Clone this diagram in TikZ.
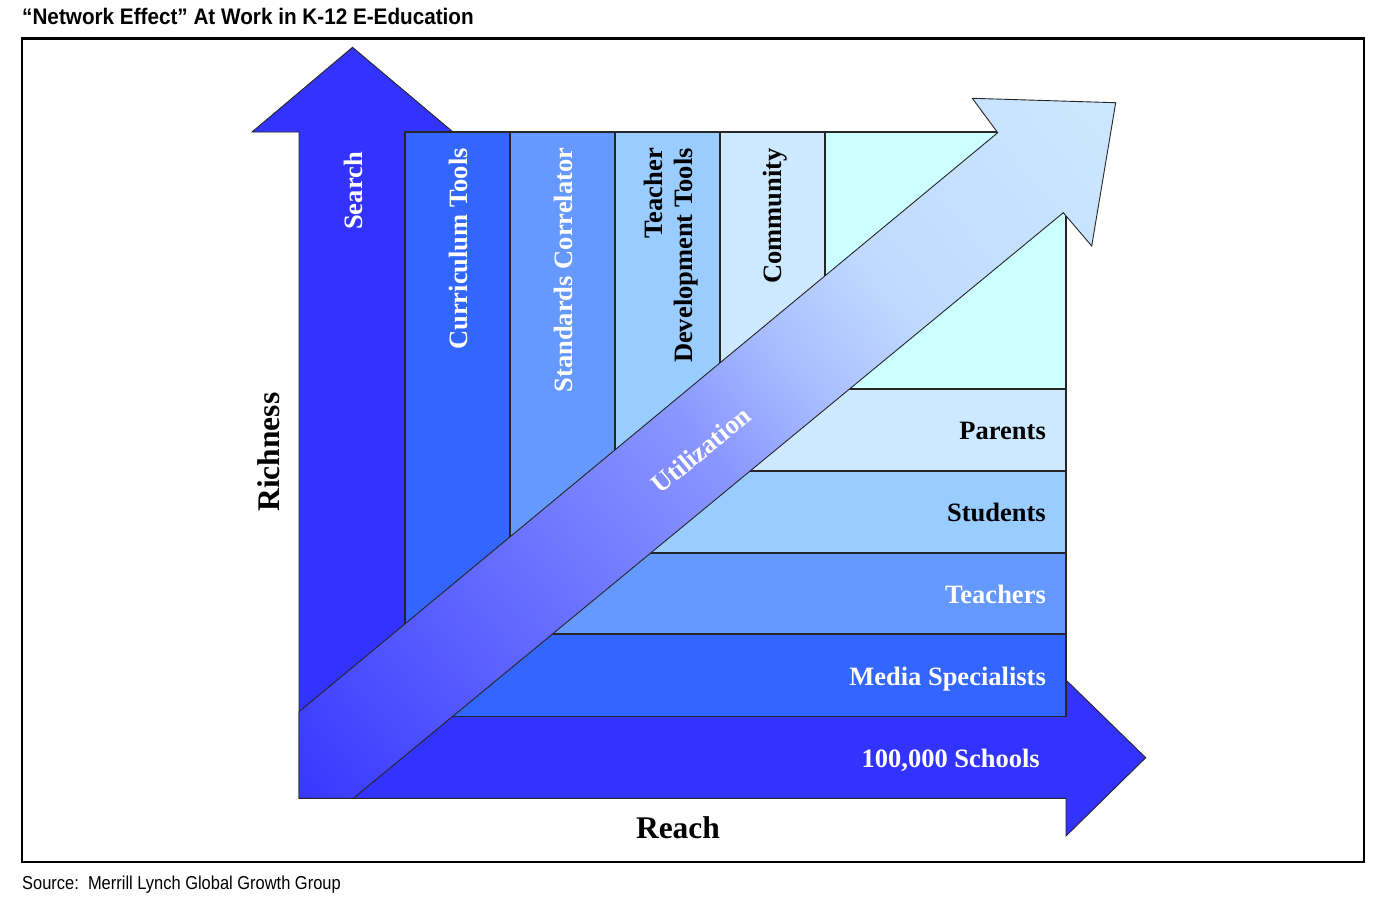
\documentclass[tikz,border=0pt]{standalone}
\usepackage{fontspec}
\setmainfont{Liberation Serif}
\newfontfamily\titlesans[FakeStretch=0.92]{Liberation Sans}
\newfontfamily\srcsans[FakeStretch=0.88]{Liberation Sans}
\definecolor{bigL}{HTML}{3333FF}
\definecolor{cA}{HTML}{3366FF}
\definecolor{cB}{HTML}{6699FF}
\definecolor{cC}{HTML}{99CCFF}
\definecolor{cD}{HTML}{CCE9FF}
\definecolor{cE}{HTML}{CCFFFF}
\definecolor{diagDark}{HTML}{3838FF}
\definecolor{diagMid}{HTML}{8A96FF}
\definecolor{diagMidB}{HTML}{A8BEFF}
\definecolor{diagMidC}{HTML}{C0DAFF}
\definecolor{diagLight}{HTML}{CCE8FF}
\pgfdeclareverticalshading{diagshade}{100bp}{color(0bp)=(diagDark); color(15bp)=(diagDark); color(50bp)=(diagMid); color(58bp)=(diagMidB); color(66bp)=(diagMidC); color(85bp)=(diagLight); color(100bp)=(diagLight)}
\tikzset{
  boxline/.style={draw=black!85, line width=1.1pt},
  arrline/.style={draw=black!85, line width=0.9pt},
  collabel/.style={rotate=90, anchor=base east, inner sep=0pt, font=\bfseries\fontsize{26.5}{30}\selectfont},
  rowlabel/.style={anchor=base east, inner sep=0pt, font=\bfseries\fontsize{26.5}{30}\selectfont},
  axislabel/.style={inner sep=0pt, font=\bfseries\fontsize{31.5}{36}\selectfont},
}
\begin{document}
\begin{tikzpicture}[x=1pt, y=-1pt]
\useasboundingbox (0,0) rectangle (1390,906);
\fill[white] (0,0) rectangle (1390,906);
% title and source
\node[anchor=base west, inner sep=0pt, font=\titlesans\bfseries\fontsize{22.5}{26}\selectfont] (title) at (22,24.3) {“Network Effect” At Work in K-12 E-Education};
\node[anchor=base west, inner sep=0pt, font=\srcsans\fontsize{18.7}{22}\selectfont] (source) at (22,889.3) {Source:\ \ Merrill Lynch Global Growth Group};
% frame
\draw[line width=2.2pt] (21.7,38.5) rectangle (1364.3,861.7);
% big L arrow
\filldraw[fill=bigL, arrline] (299,798.3) -- (299,132) -- (252,132) -- (352.5,47.3) -- (453,132) -- (405,132)
  -- (405,716.5) -- (1066,716.5) -- (1066,680) -- (1145.7,757.7) -- (1066,836) -- (1066,798.3) -- cycle;
% staircase
\filldraw[fill=cA, boxline] (405,132) rectangle (1066,716.5);
\filldraw[fill=cB, boxline] (510,132) rectangle (1066,634);
\filldraw[fill=cC, boxline] (615,132) rectangle (1066,553);
\filldraw[fill=cD, boxline] (720,132) rectangle (1066,471);
\filldraw[fill=cE, boxline] (825,132) rectangle (1066,389);
% diagonal arrow
\shadedraw[shading=diagshade, shading angle=-50, arrline]
  (299,711.7) -- (997.7,132.7) -- (972.3,98.3) -- (1115.7,102.7) -- (1091.7,246) -- (1063.3,212.7)
  -- (353.3,798.3) -- (299,798.3) -- cycle;
% column labels
\node[collabel, text=white] (search) at (362.5,152) {Search};
\node[collabel, text=white] (curr) at (467.5,148) {Curriculum Tools};
\node[collabel, text=white] (stand) at (572.5,147.5) {Standards Correlator};
\node[collabel, text=black] (teach1) at (662,148) {Teacher};
\node[collabel, text=black] (teach2) at (692,148) {Development Tools};
\node[collabel, text=black] (comm) at (781,148) {Community};
% row labels
\node[rowlabel, text=black] (parents) at (1046,439) {Parents};
\node[rowlabel, text=black] (students) at (1046,521.5) {Students};
\node[rowlabel, text=white] (teachers) at (1046,603.5) {Teachers};
\node[rowlabel, text=white] (media) at (1046,685.5) {Media Specialists};
\node[rowlabel, text=white] (schools) at (1040,767) {100,000 Schools};
% utilization
\node[inner sep=0pt, rotate=39.6, text=white, font=\bfseries\fontsize{26.5}{30}\selectfont] (util) at (701,450) {Utilization};
% axes
\node[axislabel, rotate=90, anchor=base] (rich) at (279,452) {Richness};
\node[axislabel, anchor=base] (reach) at (678,838.3) {Reach};
\end{tikzpicture}
\end{document}
